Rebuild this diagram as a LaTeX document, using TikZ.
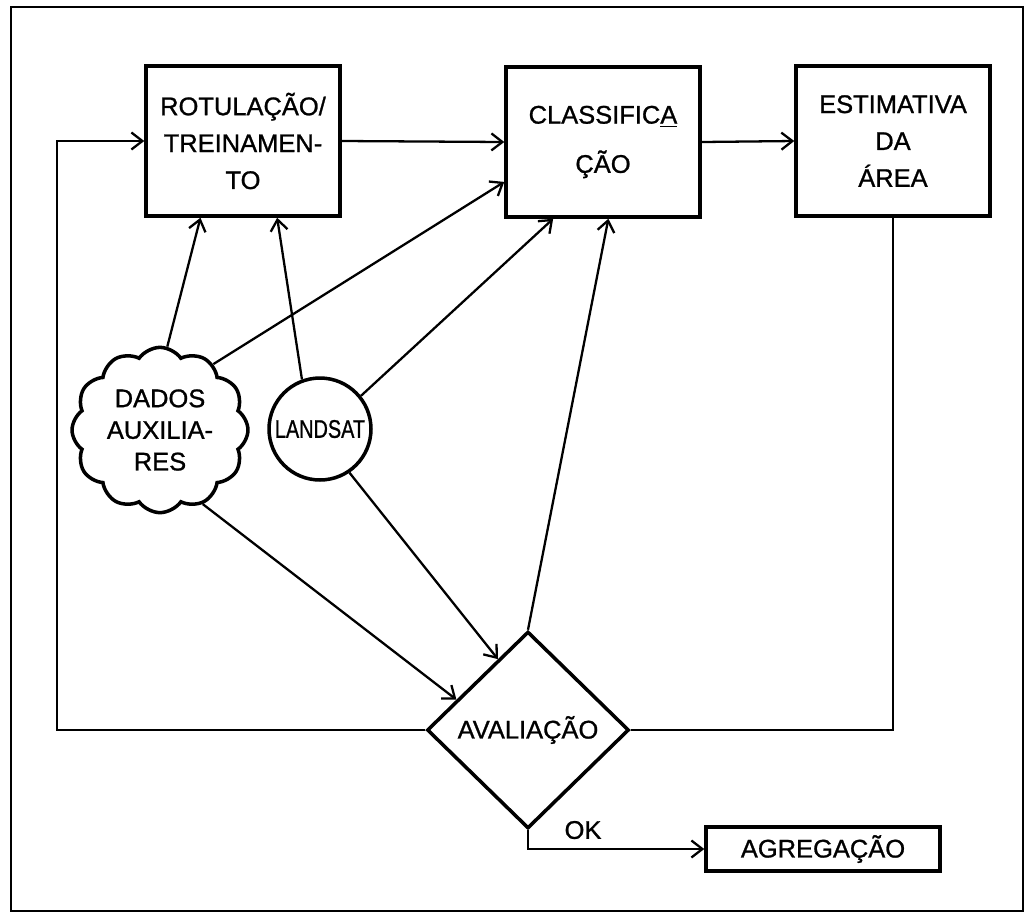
\documentclass[tikz,border=0pt]{standalone}
\usepackage{fontspec}
\setmainfont{Liberation Sans}[FakeBold=1]
\usepackage{tikz}
\usetikzlibrary{arrows.meta}
\usetikzlibrary{shapes.geometric,shapes.symbols}
\usetikzlibrary{positioning}
\tikzstyle{box}=[rectangle,draw,line width=2pt,minimum width=3.88cm,minimum height=3cm,inner sep=0pt,align=center,font=\fontsize{14.5}{21}\selectfont]
\tikzstyle{smallbox}=[rectangle,draw,line width=2pt,minimum width=4.68cm,minimum height=0.88cm,inner sep=0pt,font=\fontsize{14.5}{17}\selectfont]
\tikzstyle{decision}=[diamond,draw,line width=2pt,minimum width=4.04cm,minimum height=3.94cm,inner sep=0pt,font=\fontsize{14.5}{17}\selectfont]
\tikzstyle{source}=[circle,draw,line width=2pt,minimum size=2.04cm,inner sep=0pt,font=\fontsize{14.5}{17}\selectfont]
\tikzstyle{edge} = [draw,line width=1.3pt,-{Straight Barb[length=2.2mm,width=3.4mm]}]
\tikzstyle{line} = [draw,line width=1.3pt]
\tikzset{auxdata/.style={cloud,cloud puffs=12,cloud puff arc=110,draw,line width=2pt,minimum width=3.52cm,minimum height=2.92cm,inner sep=0pt,align=center,font=\fontsize{14.5}{18}\selectfont}}
\tikzset{lbl/.style={font=\fontsize{14.5}{17}\selectfont}}

\begin{document}
\begin{tikzpicture}[x=0.02cm,y=-0.02cm]

  \useasboundingbox (0,0) rectangle (1028,914);
  \draw[line width=1.6pt] (11,7) rectangle (1023,911);

  % caixas do fluxo principal
  \node[box] (rot) at (243,141) {ROTULAÇÃO/\\TREINAMEN-\\TO};
  \node[box] (cls) at (603,142) {CLASSIFIC\underline{A}\\[7pt]ÇÃO};
  \node[box] (est) at (893,141) {ESTIMATIVA\\DA\\ÁREA};

  % entradas
  \node[auxdata] (aux) at (160,430) {DADOS\\AUXILIA-\\RES};
  \node[source] (lsat) at (320,429) {\scalebox{0.78}[1]{LANDSAT}};

  \node[decision] (eval) at (528,730) {AVALIAÇÃO};
  \node[smallbox] (agg) at (823,849) {AGREGAÇÃO};
  \node[lbl] (ok) at (583,830) {OK};

  \coordinate (fbl) at (57,730);

  \foreach \source/\dest in {rot.east/cls.west, cls.east/est.west, aux.85/rot.-119, lsat.110/rot.-66}
         \path[edge] (\source) -- (\dest);

  \foreach \source/\dest in {aux.51/cls.-158, lsat.39/cls.-123, eval.north/cls.-86, aux.-60/eval.157, lsat.-56/eval.113}
         \path[edge] (\source) -- (\dest);

  % realimentacao
  \path[edge] (eval.west) -- (fbl) |- (rot.west);
  \path[line] (eval.east) -| (est.south);
  \path[edge] (eval.south) |- (agg.west);

\end{tikzpicture}
\end{document}
